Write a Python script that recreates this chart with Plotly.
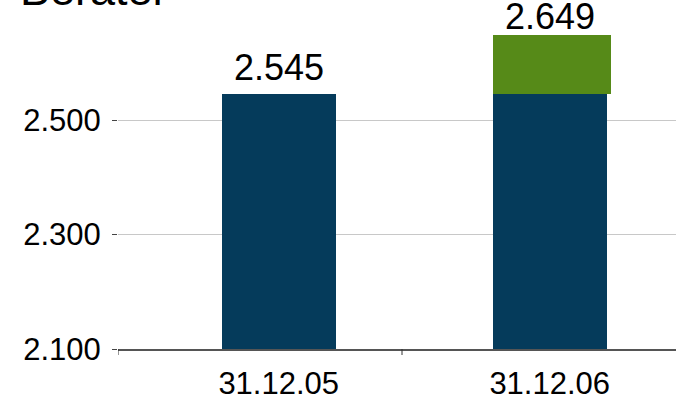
import plotly.graph_objects as go

# Berater headcount at year end
categories = ["31.12.05", "31.12.06"]
base_values = [2545, 2545]        # prior-year stock (dark blue)
increase_values = [None, 104]     # growth in 2006 (green)
totals = [2545, 2649]
y_ticks = [2100, 2300, 2500]

BLUE = "#053b5b"
GREEN = "#568a18"
FONT = "Liberation Sans, Arial, sans-serif"

x_pos = list(range(len(categories)))
# the taller label sits a little closer to its column so it stays on the page
label_shift = [4, -4]


def de_int(v):
    return f"{v:,}".replace(",", ".")


fig = go.Figure()
fig.add_trace(go.Bar(
    x=x_pos, y=base_values, marker=dict(color=BLUE, line=dict(width=0)),
    width=0.421, hoverinfo="skip",
))
fig.add_trace(go.Bar(
    x=x_pos, y=increase_values, marker=dict(color=GREEN, line=dict(width=0)),
    width=0.435, offset=-0.209, hoverinfo="skip",
))

# value labels above each column
for xi, tot, sh in zip(x_pos, totals, label_shift):
    fig.add_annotation(
        x=xi, y=tot, xref="x", yref="y", text=de_int(tot), showarrow=False,
        yanchor="bottom", yshift=sh, font=dict(family=FONT, size=36, color="black"),
    )

# category separator ticks below the axis
for xt in [-0.593, 0.455]:
    fig.add_shape(
        type="line", xref="x", yref="paper", ysizemode="pixel", yanchor=0,
        x0=xt, x1=xt, y0=0, y1=-6, line=dict(color="#333", width=1),
    )

fig.update_layout(
    width=676, height=401,
    margin=dict(l=118, r=0, t=0, b=52),
    barmode="stack",
    separators=",.",
    showlegend=False,
    plot_bgcolor="white", paper_bgcolor="white",
    font=dict(family=FONT, color="black"),
    # title baseline sits just below the top edge, so most of it is cut away
    title=dict(
        text="Berater", xref="container", yref="container",
        x=20 / 676, xanchor="left", y=1 - 5 / 401, yanchor="bottom",
        font=dict(family=FONT, size=45, color="black"),
    ),
)
fig.update_xaxes(
    range=[-0.593, 1.466],
    tickmode="array", tickvals=x_pos, ticktext=categories,
    ticks="", showgrid=False, zeroline=False,
    showline=True, linecolor="#555", linewidth=2,
    tickfont=dict(family=FONT, size=31, color="black"),
    ticklabelstandoff=6,
)
fig.update_yaxes(
    range=[2100, 2709.6],
    tickmode="array", tickvals=y_ticks, ticktext=[de_int(v) for v in y_ticks],
    ticks="outside", ticklen=5, tickcolor="#444", tickwidth=1,
    showgrid=True, gridcolor="#c8c8c8", gridwidth=1,
    zeroline=False, showline=False,
    tickfont=dict(family=FONT, size=31, color="black"),
    ticklabelstandoff=5,
)

fig.write_html("out.html")
